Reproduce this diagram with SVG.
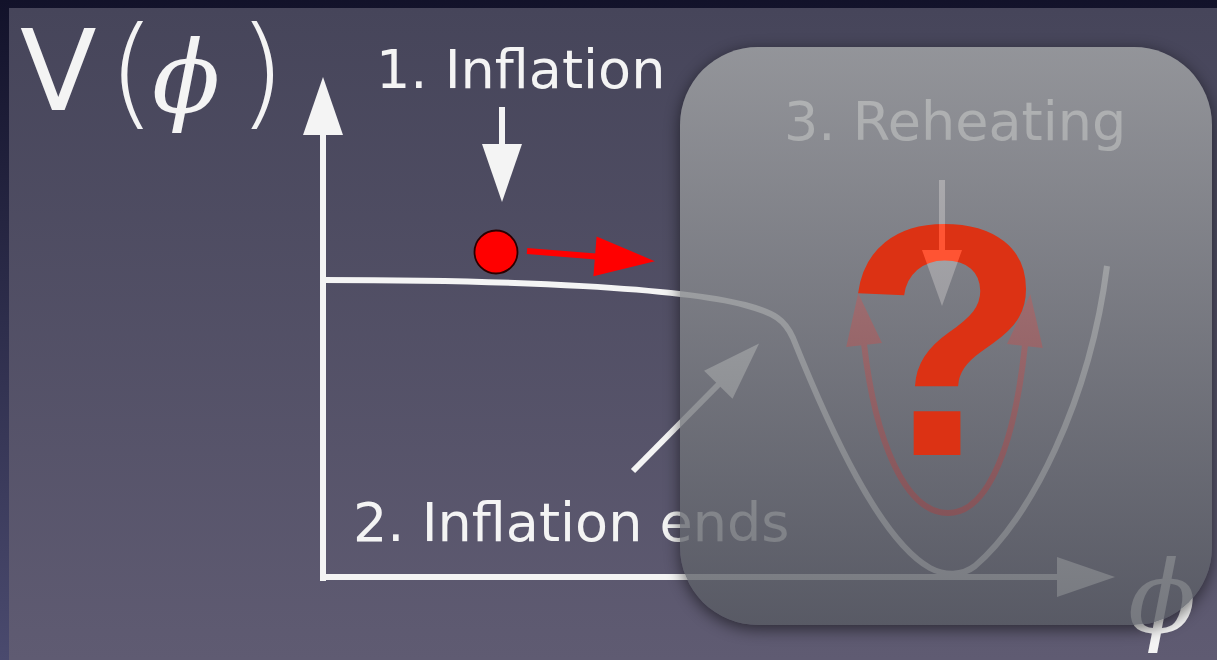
<svg xmlns="http://www.w3.org/2000/svg" width="1217" height="660" viewBox="0 0 1217 660">
<style>
.lbl{font-family:"DejaVu Sans","Liberation Sans",sans-serif;font-size:54px;fill:#f4f4f4}
.math{font-family:"DejaVu Serif","Liberation Serif",serif;font-style:italic;fill:#f4f4f4}
.paren{font-family:"DejaVu Sans","Liberation Sans",sans-serif;font-weight:200;fill:#f4f4f4}
.wl{stroke:#f4f4f4;stroke-width:6;fill:none}
.rl{stroke:#ff0000;stroke-width:6;fill:none}
</style>
<defs>
<linearGradient id="frame" x1="0" y1="0" x2="0" y2="1"><stop offset="0" stop-color="#12122a"/><stop offset="1" stop-color="#4a4a6e"/></linearGradient>
<linearGradient id="bg" x1="0" y1="0" x2="0" y2="1"><stop offset="0" stop-color="#46455a"/><stop offset="1" stop-color="#5f5b72"/></linearGradient>
<linearGradient id="boxg" gradientUnits="userSpaceOnUse" x1="0" y1="47" x2="0" y2="625"><stop offset="0" stop-color="#a6a8a9"/><stop offset="1" stop-color="#575a62"/></linearGradient>
<filter id="blur" x="-20%" y="-20%" width="140%" height="140%"><feGaussianBlur stdDeviation="8"/></filter>
<mask id="outside" maskUnits="userSpaceOnUse" x="0" y="0" width="1217" height="660"><rect width="1217" height="660" fill="#fff"/><rect x="680" y="47" width="532" height="578" rx="78" fill="#000"/></mask>
<marker id="wh" markerUnits="userSpaceOnUse" markerWidth="58" markerHeight="40" refX="1" refY="20" orient="auto" overflow="visible"><path d="M0,0 L58,20 L0,40 z" fill="#f4f4f4"/></marker>
<marker id="rh" markerUnits="userSpaceOnUse" markerWidth="60" markerHeight="40" refX="1" refY="20" orient="auto" overflow="visible"><path d="M0,0 L60,20 L0,40 z" fill="#ff0000"/></marker>
<marker id="rh2" markerUnits="userSpaceOnUse" markerWidth="52" markerHeight="36" refX="1" refY="18" orient="auto-start-reverse" overflow="visible"><path d="M0,0 L52,18 L0,36 z" fill="#ff0000"/></marker>
<marker id="gh" markerUnits="userSpaceOnUse" markerWidth="56" markerHeight="40" refX="1" refY="20" orient="auto" overflow="visible"><path d="M0,0 L56,20 L0,40 z" fill="#24221f"/></marker>
</defs>

<g id="background">
<rect width="1217" height="660" fill="url(#frame)"/>
<rect x="9" y="8" width="1208" height="652" fill="url(#bg)"/>
</g>

<g id="axis-label-V">
<text y="110" class="lbl" style="font-size:112px"><tspan x="20">V</tspan><tspan x="108" y="113" class="paren" style="font-size:122px">(</tspan><tspan x="152" y="112" class="math" style="font-size:100px">ϕ</tspan><tspan x="238" y="113" class="paren" style="font-size:122px">)</tspan></text>
</g>

<g id="axis-label-phi">
<text x="1128" y="632" class="math" style="font-size:100px">ϕ</text>
</g>

<g id="potential">
<path class="wl" d="M323,280 C520,280 680,288 745,305 C775,313 785,320 793,338 C830,430 880,540 930,568 C945,576 962,576 975,566 C1030,520 1090,400 1107,266"/>
</g>

<g id="connectors">
<line id="v-axis" class="wl" x1="323" y1="581" x2="323" y2="134" marker-end="url(#wh)"/>
<line id="h-axis" class="wl" x1="320" y1="577" x2="1058" y2="577" marker-end="url(#wh)"/>
<line id="arrow-inflation" class="wl" x1="502" y1="107" x2="502" y2="145" marker-end="url(#wh)"/>
<line id="arrow-ends" class="wl" x1="633" y1="471" x2="719" y2="384" marker-end="url(#wh)"/>
<line id="arrow-roll" class="rl" x1="527" y1="251" x2="596" y2="256.5" marker-end="url(#rh)"/>
<path id="arrow-oscillation" class="rl" d="M864,344 C875,440 905,513 948,513 C990,513 1015,440 1025,345" marker-start="url(#rh2)" marker-end="url(#rh2)"/>
</g>

<g id="ball">
<circle cx="496" cy="252" r="21.5" fill="#ff0000" stroke="#2a0000" stroke-width="1.8"/>
</g>

<g id="label-inflation"><text x="376" y="88" class="lbl">1. Inflation</text></g>
<g id="label-ends"><text x="353" y="541" class="lbl">2. Inflation ends</text></g>
<g id="label-reheating"><text x="784" y="140" class="lbl">3. Reheating</text></g>

<g id="overlay">
<rect x="680" y="51" width="532" height="578" rx="78" fill="#000" opacity="0.55" filter="url(#blur)" mask="url(#outside)"/>
<rect x="680" y="47" width="532" height="578" rx="78" fill="url(#boxg)" opacity="0.8"/>
</g>

<g id="question-mark">
<text x="944" y="455" text-anchor="middle" style="font-family:'Liberation Sans',Arial,sans-serif;font-weight:bold;font-size:331px;fill:#dc3214">?</text>
</g>

<g id="connectors-top" style="mix-blend-mode:plus-lighter">
<line id="arrow-reheating" x1="942" y1="180" x2="942" y2="251" stroke="#24221f" stroke-width="6" marker-end="url(#gh)"/>
</g>
</svg>
